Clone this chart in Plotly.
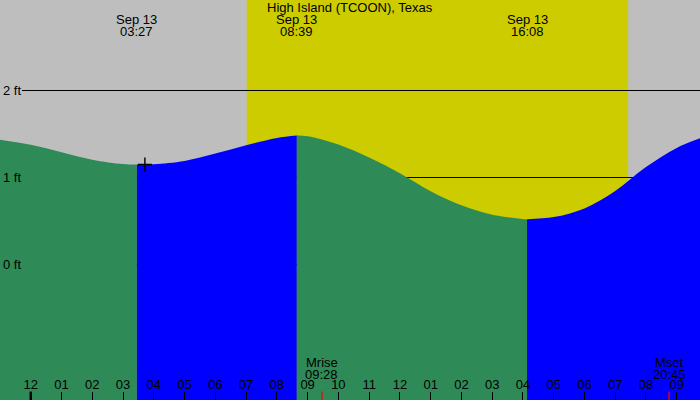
import plotly.graph_objects as go

# ---- data (hours after midnight, Sep 13) ----
# tide heights (ft)
seg1_t = [-1.0, 0.0, 1.0, 2.0, 3.0, 3.45]
seg1_h = [1.435, 1.375, 1.29, 1.205, 1.155, 1.149]
seg2_t = [3.45, 4.0, 5.0, 6.0, 7.0, 8.0, 8.65]
seg2_h = [1.149, 1.153, 1.19, 1.275, 1.37, 1.455, 1.483]
seg3_t = [8.65, 9.0, 10.0, 11.0, 12.0, 13.0, 14.0, 15.0, 16.0, 16.133]
seg3_h = [1.483, 1.475, 1.38, 1.23, 1.05, 0.843, 0.68, 0.572, 0.523, 0.521]
seg4_t = [16.133, 17.0, 18.0, 19.0, 20.0, 21.0, 22.0]
seg4_h = [0.521, 0.545, 0.645, 0.845, 1.12, 1.34, 1.48]

extreme_times = [3.45, 8.65, 16.133]
extreme_dates = ["Sep 13", "Sep 13", "Sep 13"]
extreme_clock = ["03:27", "08:39", "16:08"]

sunrise = 7.02
sunset = 19.42

moon_times = [9.467, 20.75]
moon_names = ["Mrise", "Mset"]
moon_clock = ["09:28", "20:45"]

now_t = [3.71]
now_h = [1.149]

hour_ticks = list(range(-1, 22))
hour_labels = ["11", "12", "01", "02", "03", "04", "05", "06", "07", "08", "09", "10",
               "11", "12", "01", "02", "03", "04", "05", "06", "07", "08", "09"]
midnight = [0]

ft_ticks = [0, 1, 2]
ft_labels = ["0 ft", "1 ft", "2 ft"]

title = "High Island (TCOON), Texas"

X_RANGE = [-1.0005, 21.7565]
Y_RANGE = [-1.5575, 3.0402]
BASE = -3.0

GREEN = "#2E8B57"
BLUE = "#0000FF"
GRAY = "#BEBEBE"
YELLOW = "#CCCC00"
FONT = "Liberation Sans"

fig = go.Figure()

segments = [(seg1_t, seg1_h, GREEN), (seg2_t, seg2_h, BLUE),
            (seg3_t, seg3_h, GREEN), (seg4_t, seg4_h, BLUE)]
for ts, hs, col in segments:
    fig.add_trace(go.Scatter(x=[ts[0], ts[-1]], y=[BASE, BASE], mode="lines",
                             line=dict(width=0), hoverinfo="skip"))
    fig.add_trace(go.Scatter(x=ts, y=hs, mode="lines", fill="tonexty",
                             fillcolor=col, line=dict(width=0, shape="spline", smoothing=1),
                             hoverinfo="skip"))

fig.add_trace(go.Scatter(x=now_t, y=now_h, mode="markers",
                         marker=dict(symbol="cross-thin", size=10,
                                     line=dict(color="black", width=1.4)),
                         hoverinfo="skip"))

shapes = [dict(type="rect", xref="x", yref="paper", x0=sunrise, x1=sunset, y0=0, y1=1,
               fillcolor=YELLOW, line=dict(width=0), layer="below")]
for v in ft_ticks:
    shapes.append(dict(type="line", xref="paper", yref="y", x0=22 / 700, x1=1, y0=v, y1=v,
                       line=dict(color="black", width=1), layer="between"))
for m in midnight:
    shapes.append(dict(type="line", xref="x", yref="paper", x0=m, x1=m, y0=0, y1=0.021,
                       line=dict(color="black", width=2.5), layer="above"))
for m in moon_times:
    shapes.append(dict(type="line", xref="x", yref="paper", x0=m, x1=m, y0=0, y1=0.021,
                       line=dict(color="red", width=1.3), layer="above"))

annos = [dict(text=title, x=0.5, xref="paper", y=1 - 7.5 / 400, yref="paper",
              showarrow=False, xanchor="center", yanchor="middle")]
for t, d, c in zip(extreme_times, extreme_dates, extreme_clock):
    annos.append(dict(text=d, x=t, xref="x", y=1 - 19.5 / 400, yref="paper",
                      showarrow=False, xanchor="center", yanchor="middle"))
    annos.append(dict(text=c, x=t, xref="x", y=1 - 31.5 / 400, yref="paper",
                      showarrow=False, xanchor="center", yanchor="middle"))
for t, n, c in zip(moon_times, moon_names, moon_clock):
    annos.append(dict(text=n, x=t, xref="x", y=1 - 362 / 400, yref="paper",
                      showarrow=False, xanchor="center", yanchor="middle"))
    annos.append(dict(text=c, x=t, xref="x", y=1 - 374 / 400, yref="paper",
                      showarrow=False, xanchor="center", yanchor="middle"))

fig.update_layout(
    width=700, height=400,
    margin=dict(l=0, r=0, t=0, b=0, pad=0, autoexpand=False),
    paper_bgcolor=GRAY, plot_bgcolor=GRAY,
    showlegend=False,
    font=dict(family=FONT, size=13, color="black"),
    shapes=shapes, annotations=annos,
    xaxis=dict(range=X_RANGE, showgrid=False, zeroline=False, showline=False,
               automargin=False,
               tickmode="array", tickvals=hour_ticks, ticktext=hour_labels,
               ticks="inside", ticklen=8, tickwidth=1, tickcolor="black",
               ticklabelposition="inside", ticklabeloverflow="allow",
               tickfont=dict(family=FONT, size=13, color="black")),
    yaxis=dict(range=Y_RANGE, showgrid=False, zeroline=False, showline=False,
               automargin=False,
               tickmode="array", tickvals=ft_ticks, ticktext=ft_labels,
               ticks="", ticklabelposition="inside", ticklabelstandoff=0,
               tickfont=dict(family=FONT, size=13, color="black")),
)

fig.write_html(
    "out.html",
    config={"displayModeBar": False},
    post_script="document.body.style.margin='0';document.body.style.padding='0';"
                "document.body.style.overflow='hidden';",
)
